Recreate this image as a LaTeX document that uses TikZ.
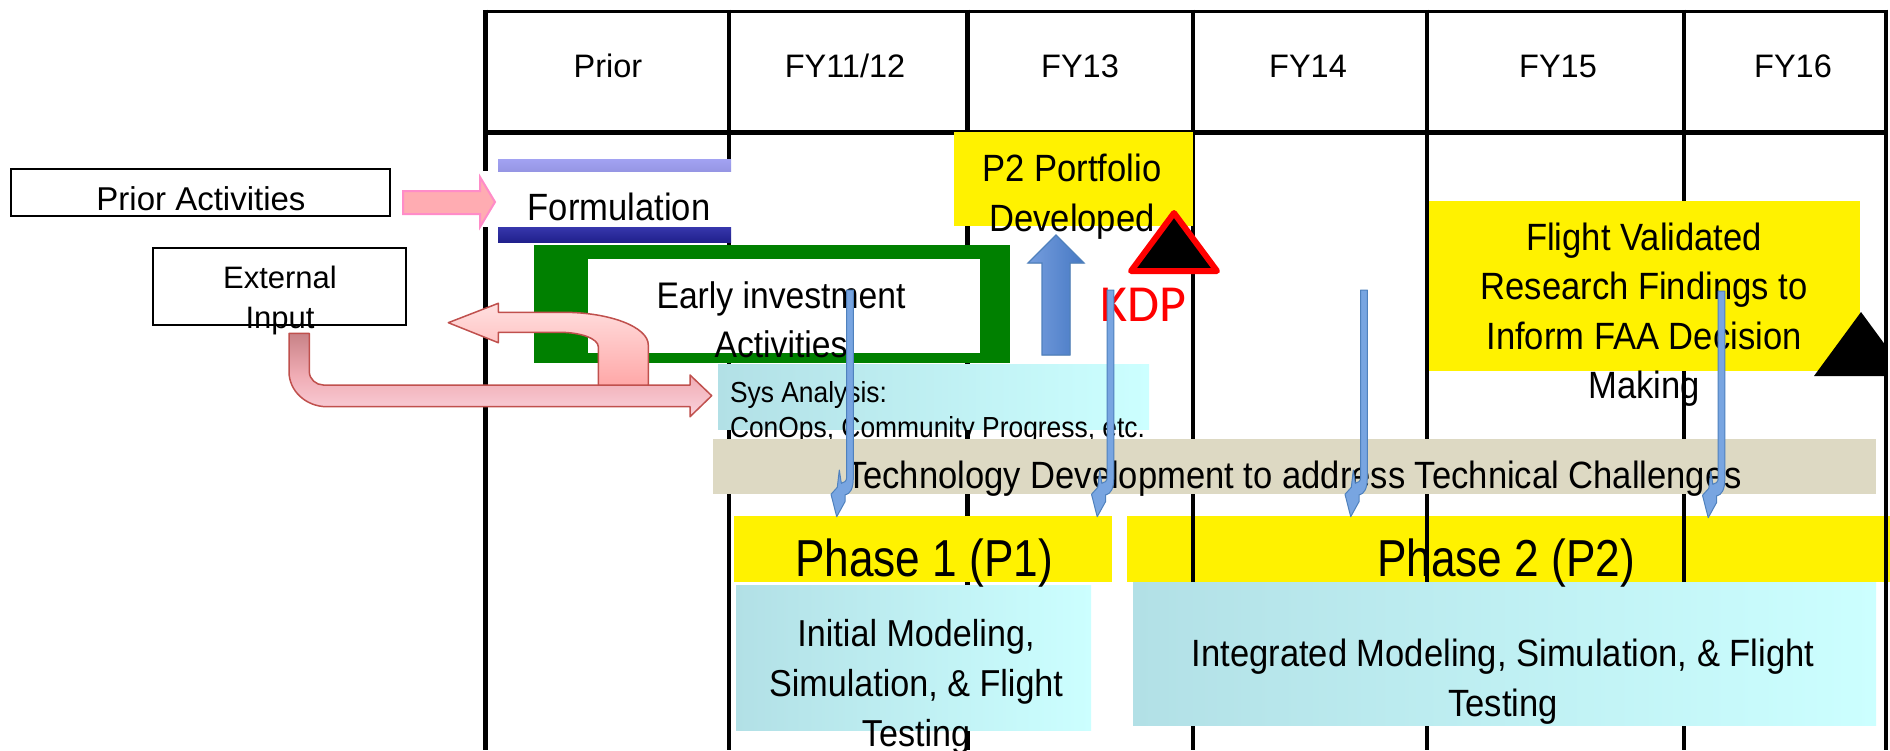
\documentclass[tikz,border=0pt]{standalone}
\usepackage{fontspec}
\setmainfont{Liberation Sans}
\newfontfamily\narrowsans[FakeStretch=0.91]{Liberation Sans}
\newfontfamily\phasesans[FakeStretch=0.85]{Liberation Sans}
\newfontfamily\kdpsans{Carlito}

\definecolor{boxgreen}{RGB}{0,128,0}
\definecolor{tanbar}{RGB}{221,217,195}
\definecolor{cyanL}{RGB}{178,224,230}
\definecolor{cyanR}{RGB}{204,255,255}
\definecolor{lavtop}{RGB}{162,162,242}
\definecolor{lavbot}{RGB}{150,150,228}
\definecolor{navytop}{RGB}{55,55,172}
\definecolor{navybot}{RGB}{32,32,140}
\definecolor{pinkfill}{RGB}{255,172,178}
\definecolor{pinkedge}{RGB}{255,140,200}
\definecolor{rosetop}{RGB}{200,130,135}
\definecolor{rosemid}{RGB}{240,172,180}
\definecolor{rosebot}{RGB}{250,210,220}
\definecolor{utop}{RGB}{255,224,224}
\definecolor{ubot}{RGB}{255,168,168}
\definecolor{roseedge}{RGB}{192,80,77}
\definecolor{blueL}{RGB}{118,158,222}
\definecolor{blueR}{RGB}{70,120,195}
\definecolor{blueedge}{RGB}{79,129,189}
\definecolor{hookfill}{RGB}{120,165,225}

\begin{document}
\begin{tikzpicture}[x=1pt,y=-1pt,
  gridline/.style={line width=4.5pt, black},
  rect/.style={anchor=north west, inner sep=0pt, outer sep=0pt},
  plainbox/.style={rect, draw=black, line width=1.5pt, fill=white},
  yellowbox/.style={rect, fill=yellow},
  cyanbox/.style={rect, left color=cyanL, right color=cyanR},
  txt/.style={anchor=base, inner sep=0pt, outer sep=0pt},
  hdrtext/.style={txt, font=\fontsize{32.5}{38}\selectfont},
  bodytext/.style={txt, font=\narrowsans\fontsize{38}{46}\selectfont},
  smalltext/.style={txt, anchor=base west, font=\narrowsans\fontsize{29}{35}\selectfont},
  phasetext/.style={txt, font=\phasesans\fontsize{52}{60}\selectfont},
  pinkarrow/.style={draw=roseedge, line width=1.5pt, line join=round},
  hookstyle/.style={fill=hookfill, draw=blueedge, line width=1pt, line join=round},
  hookarrow/.pic={
    \filldraw[hookstyle] (-3.3,0) -- (3.3,0) -- (3.3,188)
      .. controls (3.3,199) and (0,204) .. (-5,205) -- (-5,211.7)
      -- (-13.3,226.7) -- (-19,204.3) -- (-12.7,197.3) -- (-10.7,180)
      -- (-8.7,193.3) .. controls (-6,193) and (-3.3,191) .. (-3.3,187.3) -- cycle;
  }
]
\useasboundingbox (0,0) rectangle (1890,750);
\fill[white] (0,0) rectangle (1890,750);

% Phase 2 band sits behind the year grid
\node[yellowbox, minimum width=763, minimum height=66] (phase2box) at (1127,516) {};

% year grid
\foreach \gx in {485.5,729,967.5,1193,1427,1684,1886}
  \draw[gridline] (\gx,9.5) -- (\gx,750);
\draw[line width=3.5pt] (483.5,11.5) -- (1888,11.5);
\draw[line width=5.5pt] (483.5,132.5) -- (1888,132.5);

\node[hdrtext] (hprior) at (608,77) {Prior};
\node[hdrtext] (hfy1112) at (845,77) {FY11/12};
\node[hdrtext] (hfy13) at (1080,77) {FY13};
\node[hdrtext] (hfy14) at (1308,77) {FY14};
\node[hdrtext] (hfy15) at (1558,77) {FY15};
\node[hdrtext] (hfy16) at (1793,77) {FY16};

% Formulation bar
\node[rect, fill=white, minimum width=249, minimum height=56] (formbox) at (482,171) {};
\node[rect, top color=lavtop, bottom color=lavbot, minimum width=233, minimum height=12] (lavbar) at (498,159) {};
\node[rect, top color=navytop, bottom color=navybot, minimum width=233, minimum height=15] (navybar) at (498,227) {};
\node[bodytext] (formtext) at (619,220) {Formulation};

% left-hand inputs
\node[plainbox, minimum width=379, minimum height=47] (priorbox) at (11,169) {};
\node[txt, font=\fontsize{33}{40}\selectfont] (priortext) at (201,210.7) {Prior Activities};
\node[plainbox, minimum width=253, minimum height=77] (extbox) at (153,248) {};
\node[txt, font=\fontsize{31}{38}\selectfont] (exttext1) at (280,288.3) {External};
\node[txt, font=\fontsize{31}{38}\selectfont] (exttext2) at (280,328.3) {Input};

% block arrow: prior activities into formulation
\filldraw[fill=pinkfill, draw=pinkedge, line width=2pt, line join=miter]
  (403,191) -- (480,191) -- (480,177) -- (495,202) -- (480,227) -- (480,214) -- (403,214) -- cycle;

% early investment frame
\node[rect, fill=boxgreen, minimum width=476, minimum height=118] (greenbox) at (534,245) {};
\node[rect, fill=white, minimum width=392, minimum height=94] (earlybox) at (588,259) {};
\node[txt, font=\narrowsans\fontsize{37}{45}\selectfont] (early1) at (781,308) {Early investment};
\node[txt, font=\narrowsans\fontsize{37}{45}\selectfont] (early2) at (781,357) {Activities};

% P2 portfolio milestone
\node[yellowbox, minimum width=239, minimum height=94] (p2box) at (954,132) {};
\node[bodytext] (p2text1) at (1072,181.7) {P2 Portfolio};
\node[bodytext] (p2text2) at (1072,231.7) {Developed};
\filldraw[left color=blueL, right color=blueR, draw=blueedge, line width=1.2pt, line join=miter]
  (1042,355) -- (1042,263) -- (1028,263) -- (1056,235) -- (1084,263) -- (1070,263) -- (1070,355) -- cycle;

% KDP marker
\filldraw[fill=black, draw=red, line width=6pt, line join=round]
  (1174,213) -- (1217,271) -- (1131,271) -- cycle;
\node[txt, font=\kdpsans\fontsize{52}{60}\selectfont, text=red] (kdp) at (1143,321.7) {KDP};

% final outcome
\node[yellowbox, minimum width=431, minimum height=170] (flightbox) at (1429,201) {};
\node[bodytext] (flight1) at (1644,250) {Flight Validated};
\node[bodytext] (flight2) at (1644,299.5) {Research Findings to};
\node[bodytext] (flight3) at (1644,349) {Inform FAA Decision};
\node[bodytext] (flight4) at (1644,398.5) {Making};
\begin{scope}
  \clip (1700,290) rectangle (1885.5,400);
  \fill[black] (1861,312) -- (1908,376) -- (1814,376) -- cycle;
\end{scope}

% systems analysis strip
\node[cyanbox, minimum width=431, minimum height=65] (sysbox) at (718,364) {};
\node[smalltext] (sys1) at (730,402.7) {Sys Analysis:};
\node[smalltext] (sys2) at (730,437.5) {ConOps, Community Progress, etc.};

% technology development bar
\node[rect, fill=tanbar, minimum width=1163, minimum height=55] (techbar) at (713,439) {};
\node[bodytext] (techtext) at (1294,488.3) {Technology Development to address Technical Challenges};

% phases
\node[yellowbox, minimum width=378, minimum height=66] (phase1box) at (734,516) {};
\node[cyanbox, minimum width=355, minimum height=145] (initbox) at (736,585) {};
\node[txt, font=\narrowsans\fontsize{37.5}{45}\selectfont] (init1) at (916,646.7) {Initial Modeling,};
\node[txt, font=\narrowsans\fontsize{37.5}{45}\selectfont] (init2) at (916,696.7) {Simulation, \& Flight};
\node[txt, font=\narrowsans\fontsize{37.5}{45}\selectfont] (init3) at (916,746.7) {Testing};
\node[cyanbox, minimum width=743, minimum height=143] (integbox) at (1133,582) {};
\node[bodytext] (integ1) at (1503,666.7) {Integrated Modeling, Simulation, \& Flight};
\node[bodytext] (integ2) at (1503,716.7) {Testing};
\node[phasetext] (phase1text) at (924,576.7) {Phase 1 (P1)};
\node[phasetext] (phase2text) at (1506,576.7) {Phase 2 (P2)};

% external input bent arrow into systems analysis
\filldraw[pinkarrow, top color=rosetop, bottom color=rosebot, middle color=rosemid]
  (289,333.3) -- (309.3,333.3) -- (309.3,371.7)
  .. controls (309.3,379) and (316,385) .. (323.3,385)
  -- (690,385) -- (690,375) -- (711.7,395.7) -- (690,416.7) -- (690,406.7)
  -- (327,406.7) .. controls (306,406.7) and (289,391) .. (289,371.7) -- cycle;

% feedback U-turn arrow
\filldraw[pinkarrow, top color=utop, bottom color=ubot]
  (448.3,322.7) -- (498.3,303.3) -- (498.3,312.3) -- (563.3,312.3)
  .. controls (610,312.3) and (648.3,327) .. (648.3,345)
  -- (648.3,385) -- (598.3,385) -- (598.3,346.7)
  .. controls (598.3,338.8) and (581,332.3) .. (560,332.3)
  -- (498.3,332.3) -- (498.3,342.7) -- cycle;

% feeds from technology development into the phases
\pic (hook1) at (850,290) {hookarrow};
\pic (hook2) at (1110.5,290) {hookarrow};
\pic (hook3) at (1364,290) {hookarrow};
\pic (hook4) at (1721.5,291) {hookarrow};
\end{tikzpicture}
\end{document}
